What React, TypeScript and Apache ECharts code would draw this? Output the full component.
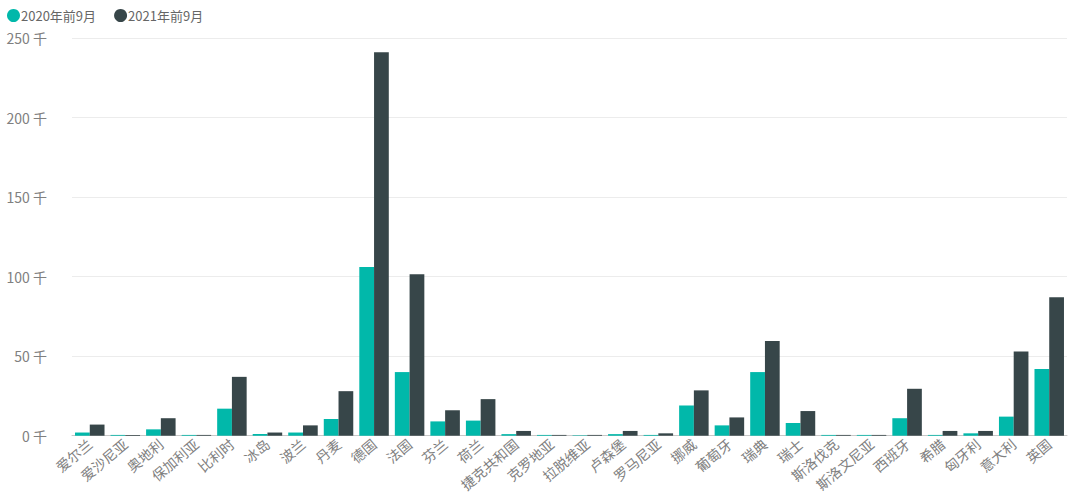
import React, { useEffect, useRef } from "react";
import * as echarts from "echarts";

const categories = ["爱尔兰","爱沙尼亚","奥地利","保加利亚","比利时","冰岛","波兰","丹麦","德国","法国","芬兰","荷兰","捷克共和国","克罗地亚","拉脱维亚","卢森堡","罗马尼亚","挪威","葡萄牙","瑞典","瑞士","斯洛伐克","斯洛文尼亚","西班牙","希腊","匈牙利","意大利","英国"];
const series2020 = [2, 0.5, 4, 0.5, 17, 1, 2, 10.5, 106, 40, 9, 9.5, 1, 0.5, 0.3, 1, 0.5, 19, 6.5, 40, 8, 0.5, 0.5, 11, 0.5, 1.5, 12, 42];
const series2021 = [7, 0.5, 11, 0.5, 37, 2, 6.5, 28, 241, 101.5, 16, 23, 3, 0.5, 0.5, 3, 1.5, 28.5, 11.5, 59.5, 15.5, 0.5, 0.5, 29.5, 3, 3, 53, 87];
const seriesNames = ["2020年前9月", "2021年前9月"];
const yTicks = [0, 50, 100, 150, 200, 250];

const FONT = "'Noto Sans CJK SC', 'Noto Sans', sans-serif";

export default function App() {
  const ref = useRef<HTMLDivElement>(null);
  useEffect(() => {
    const chart = echarts.init(ref.current!, null, { renderer: "svg" });
    chart.setOption({
      animation: false,
      textStyle: { fontFamily: FONT },
      legend: {
        left: 2,
        top: 4,
        icon: "circle",
        itemWidth: 13,
        itemHeight: 13,
        itemGap: 18,
        textStyle: { color: "#666", fontSize: 13, fontFamily: FONT, padding: [0, 0, 0, -4] },
        data: seriesNames,
      },
      grid: { left: 72, right: 13, top: 38, bottom: 58, containLabel: false },
      xAxis: {
        type: "category",
        data: categories,
        axisLine: { lineStyle: { color: "#c8c8c8" } },
        axisTick: { show: false },
        axisLabel: { rotate: 40, color: "#808080", fontSize: 14, margin: 6, interval: 0, fontFamily: FONT },
      },
      yAxis: {
        type: "value",
        min: yTicks[0],
        max: yTicks[yTicks.length - 1],
        interval: 50,
        axisLine: { show: false },
        axisTick: { show: false },
        splitLine: { lineStyle: { color: "#ececec" } },
        axisLabel: { color: "#808080", fontSize: 14, margin: 25, formatter: (v: number) => `${v} 千`, fontFamily: FONT },
      },
      series: [
        { name: seriesNames[0], type: "bar", data: series2020, itemStyle: { color: "#01B8AA" }, barGap: "0%", barCategoryGap: "17%" },
        { name: seriesNames[1], type: "bar", data: series2021, itemStyle: { color: "#374649" }, barGap: "0%", barCategoryGap: "17%" },
      ],
    });
    return () => chart.dispose();
  }, []);
  return <div ref={ref} style={{ width: 1080, height: 494, position: "absolute", left: 0, top: 0, background: "#fff" }} />;
}
